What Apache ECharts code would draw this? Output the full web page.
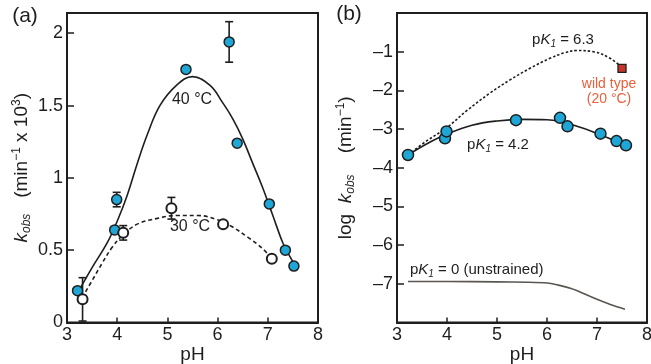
<!DOCTYPE html>
<html><head><meta charset="utf-8">
<script src="https://cdn.jsdelivr.net/npm/echarts@6/dist/echarts.min.js"></script>
<style>html,body{margin:0;padding:0;background:#fff}#c{width:651px;height:364px}</style>
</head><body><div id="c"></div>
<script>
// ---- Panel (a): k_obs (min^-1 x 10^3) vs pH ----
const pH40 = [3.21, 3.95, 3.99, 5.37, 6.23, 6.39, 7.03, 7.35, 7.52];
const k40  = [0.22, 0.64, 0.85, 1.75, 1.94, 1.24, 0.82, 0.50, 0.39];
const e40  = [0,    0,    0.05, 0,    0.14, 0,    0,    0,    0];
const pH30 = [3.31, 4.12, 5.08, 6.11, 7.08];
const k30  = [0.16, 0.62, 0.79, 0.68, 0.44];
const e30  = [0.15, 0.05, 0.075, 0,   0];
const fit40pH = [3.22, 3.5, 3.8, 4.0, 4.2, 4.4, 4.6, 4.85, 5.18, 5.5, 5.85, 6.1, 6.3, 6.5, 6.7, 6.9, 7.1, 7.3, 7.45, 7.55];
const fit40k  = [0.21, 0.38, 0.55, 0.70, 0.88, 1.10, 1.30, 1.50, 1.64, 1.70, 1.64, 1.52, 1.41, 1.27, 1.10, 0.93, 0.74, 0.55, 0.45, 0.39];
const fit30pH = [3.3, 3.5, 3.7, 3.9, 4.1, 4.4, 4.8, 5.2, 5.6, 6.0, 6.3, 6.6, 6.9, 7.08];
const fit30k  = [0.17, 0.29, 0.41, 0.52, 0.60, 0.68, 0.72, 0.74, 0.74, 0.71, 0.66, 0.59, 0.51, 0.44];
// ---- Panel (b): log k_obs vs pH ----
const pHb   = [3.22, 3.96, 3.99, 5.38, 6.26, 6.41, 7.07, 7.39, 7.58];
const logkb = [-3.67, -3.24, -3.06, -2.77, -2.71, -2.93, -3.12, -3.31, -3.42];
const wtPH = [7.50], wtLogk = [-1.43];
const fitB42pH = [3.22, 3.6, 4.0, 4.5, 5.0, 5.5, 6.0, 6.3, 6.6, 6.9, 7.2, 7.58];
const fitB42   = [-3.67, -3.38, -3.13, -2.90, -2.79, -2.75, -2.76, -2.82, -2.93, -3.06, -3.22, -3.42];
const fitB63pH = [3.22, 3.6, 4.0, 4.4, 4.86, 5.26, 5.66, 6.06, 6.35, 6.6, 6.93, 7.26, 7.50];
const fitB63   = [-3.67, -3.30, -2.96, -2.52, -2.07, -1.73, -1.43, -1.17, -1.03, -0.97, -1.00, -1.17, -1.41];
const fitB0pH  = [3.22, 4.0, 5.0, 5.6, 6.0, 6.25, 6.5, 6.8, 7.1, 7.3, 7.56];
const fitB0    = [-6.94, -6.94, -6.95, -6.96, -6.98, -7.04, -7.13, -7.29, -7.45, -7.55, -7.66];
const xTicks = [3, 4, 5, 6, 7, 8];
const yTicksA = [0, 0.5, 1, 1.5, 2];
const yTicksB = [-7, -6, -5, -4, -3, -2, -1];

const zip = (a, b, c) => a.map((v, i) => c ? [v, b[i], c[i]] : [v, b[i]]);
const FONT = '"Liberation Sans", Arial, Helvetica, sans-serif';
const INK = '#1e1e1e';
const BLUE = '#1ea7d6';

function errBars(params, api) {
  const x = api.value(0), y = api.value(1), e = api.value(2);
  if (!e) return null;
  const t = api.coord([x, y + e]), b = api.coord([x, y - e]);
  const w = 4, st = {stroke: INK, lineWidth: 1.6};
  return {type: 'group', children: [
    {type: 'line', shape: {x1: t[0], y1: t[1], x2: b[0], y2: b[1]}, style: st},
    {type: 'line', shape: {x1: t[0] - w, y1: t[1], x2: t[0] + w, y2: t[1]}, style: st},
    {type: 'line', shape: {x1: b[0] - w, y1: b[1], x2: b[0] + w, y2: b[1]}, style: st}
  ]};
}

function xAxis(gi) {
  return {
    gridIndex: gi, type: 'value', min: 3, max: 8, interval: 1,
    axisLine: {onZero: false, lineStyle: {color: INK, width: 2}},
    axisTick: {inside: true, length: 5, lineStyle: {color: INK, width: 1.5},
      customValues: xTicks.slice(1, -1)},
    axisLabel: {fontSize: 18, color: INK, fontFamily: FONT, margin: 4, customValues: xTicks},
    splitLine: {show: false},
    name: 'pH', nameLocation: 'middle', nameGap: 23, nameMoveOverlap: false,
    nameTextStyle: {fontSize: 19, color: INK, fontFamily: FONT, verticalAlign: 'top'}
  };
}
const subRich = {
  n: {fontSize: 19, fontFamily: FONT, color: INK, lineHeight: 22},
  i: {fontSize: 19, fontFamily: FONT, color: INK, fontStyle: 'italic', lineHeight: 22},
  s: {fontSize: 12, fontFamily: FONT, color: INK, fontStyle: 'italic', lineHeight: 13, verticalAlign: 'bottom'},
  u: {fontSize: 12, fontFamily: FONT, color: INK, lineHeight: 13, verticalAlign: 'top'}
};

const option = {
  animation: false,
  backgroundColor: '#fff',
  grid: [
    {left: 67, right: 333, top: 13, bottom: 41.5, show: true, borderColor: INK, borderWidth: 2,
      containLabel: false, outerBoundsMode: 'none'},
    {left: 397, right: 4, top: 13, bottom: 41.5, show: true, borderColor: INK, borderWidth: 2,
      containLabel: false, outerBoundsMode: 'none'}
  ],
  xAxis: [xAxis(0), xAxis(1)],
  yAxis: [
    {gridIndex: 0, type: 'value', min: 0, max: 2.14, interval: 0.5,
      axisLine: {onZero: false, lineStyle: {color: INK, width: 2}},
      axisTick: {inside: true, length: 7, lineStyle: {color: INK, width: 1.5}, customValues: yTicksA.slice(1)},
      axisLabel: {fontSize: 18, color: INK, fontFamily: FONT, margin: 4, customValues: yTicksA},
      splitLine: {show: false},
      name: '{i|k}{s|obs}{n|   (min}{u|−1}{n| x 10}{u|3}{n|)}', nameLocation: 'middle', nameGap: 34,
      nameTextStyle: {rich: subRich}},
    {gridIndex: 1, type: 'value', min: -8, max: 0, interval: 1,
      axisLine: {onZero: false, lineStyle: {color: INK, width: 2}},
      axisTick: {inside: true, length: 7, lineStyle: {color: INK, width: 1.5}, customValues: yTicksB},
      axisLabel: {fontSize: 18, color: INK, fontFamily: FONT, margin: 4, customValues: yTicksB,
        formatter: v => '\u2013' + Math.abs(v)},
      splitLine: {show: false},
      name: '{n|log  }{i|k}{s|obs}{n|    (min}{u|−1}{n|)}', nameLocation: 'middle', nameGap: 40,
      nameTextStyle: {rich: subRich}}
  ],
  series: [
    {type: 'line', xAxisIndex: 0, yAxisIndex: 0, data: zip(fit40pH, fit40k), smooth: 0.4, symbol: 'none',
      lineStyle: {color: INK, width: 1.6}, z: 2},
    {type: 'line', xAxisIndex: 0, yAxisIndex: 0, data: zip(fit30pH, fit30k), smooth: 0.4, symbol: 'none',
      lineStyle: {color: INK, width: 1.6, type: [4, 3]}, z: 2},
    {type: 'custom', xAxisIndex: 0, yAxisIndex: 0, data: zip(pH40, k40, e40), renderItem: errBars, z: 3},
    {type: 'custom', xAxisIndex: 0, yAxisIndex: 0, data: zip(pH30, k30, e30), renderItem: errBars, z: 3},
    {type: 'scatter', xAxisIndex: 0, yAxisIndex: 0, data: zip(pH40, k40), symbolSize: 10,
      itemStyle: {color: BLUE, borderColor: INK, borderWidth: 1.5, opacity: 1}, z: 4},
    {type: 'scatter', xAxisIndex: 0, yAxisIndex: 0, data: zip(pH30, k30), symbolSize: 10,
      itemStyle: {color: '#fff', borderColor: INK, borderWidth: 2, opacity: 1}, z: 4},

    {type: 'line', xAxisIndex: 1, yAxisIndex: 1, data: zip(fitB63pH, fitB63), smooth: 0.4, symbol: 'none',
      lineStyle: {color: INK, width: 1.6, type: [2.5, 2]}, z: 2},
    {type: 'line', xAxisIndex: 1, yAxisIndex: 1, data: zip(fitB42pH, fitB42), smooth: 0.4, symbol: 'none',
      lineStyle: {color: INK, width: 1.6}, z: 2},
    {type: 'line', xAxisIndex: 1, yAxisIndex: 1, data: zip(fitB0pH, fitB0), smooth: 0.25, symbol: 'none',
      lineStyle: {color: '#5a5652', width: 1.6}, z: 2},
    {type: 'scatter', xAxisIndex: 1, yAxisIndex: 1, data: zip(pHb, logkb), symbolSize: 11,
      itemStyle: {color: BLUE, borderColor: INK, borderWidth: 1.5, opacity: 1}, z: 4},
    {type: 'scatter', xAxisIndex: 1, yAxisIndex: 1, data: zip(wtPH, wtLogk), symbol: 'rect', symbolSize: 8,
      itemStyle: {color: '#c8342a', borderColor: INK, borderWidth: 1.3, opacity: 1}, z: 4}
  ],
  graphic: [
    {type: 'text', x: 25, y: 16, style: {text: '(a)', font: '21px ' + FONT, fill: INK, align: 'center', verticalAlign: 'middle'}},
    {type: 'text', x: 349, y: 14, style: {text: '(b)', font: '21px ' + FONT, fill: INK, align: 'center', verticalAlign: 'middle'}},
    {type: 'text', x: 192, y: 100, style: {text: '40 °C', font: '16px ' + FONT, fill: INK, align: 'center', verticalAlign: 'middle'}},
    {type: 'text', x: 190, y: 227, style: {text: '30 °C', font: '16px ' + FONT, fill: INK, align: 'center', verticalAlign: 'middle'}},
    {type: 'text', x: 563, y: 40, style: {text: '{n|p}{i|K}{s|1}{n| = 6.3}', align: 'center', verticalAlign: 'middle',
      rich: {n: {fontSize: 15, fontFamily: FONT, fill: INK, lineHeight: 18}, i: {fontSize: 15, fontFamily: FONT, fill: INK, fontStyle: 'italic', lineHeight: 18}, s: {fontSize: 10, fontFamily: FONT, fill: INK, fontStyle: 'italic', lineHeight: 10, verticalAlign: 'bottom'}}}},
    {type: 'text', x: 498, y: 145, style: {text: '{n|p}{i|K}{s|1}{n| = 4.2}', align: 'center', verticalAlign: 'middle',
      rich: {n: {fontSize: 15, fontFamily: FONT, fill: INK, lineHeight: 18}, i: {fontSize: 15, fontFamily: FONT, fill: INK, fontStyle: 'italic', lineHeight: 18}, s: {fontSize: 10, fontFamily: FONT, fill: INK, fontStyle: 'italic', lineHeight: 10, verticalAlign: 'bottom'}}}},
    {type: 'text', x: 410, y: 270, style: {text: '{n|p}{i|K}{s|1}{n| = 0 (unstrained)}', align: 'left', verticalAlign: 'middle',
      rich: {n: {fontSize: 15, fontFamily: FONT, fill: INK, lineHeight: 18}, i: {fontSize: 15, fontFamily: FONT, fill: INK, fontStyle: 'italic', lineHeight: 18}, s: {fontSize: 10, fontFamily: FONT, fill: INK, fontStyle: 'italic', lineHeight: 10, verticalAlign: 'bottom'}}}},
    {type: 'text', x: 609, y: 84, style: {text: 'wild type', font: '14px ' + FONT, fill: '#e8603c', align: 'center', verticalAlign: 'middle'}},
    {type: 'text', x: 609, y: 99, style: {text: '(20 °C)', font: '14px ' + FONT, fill: '#e8603c', align: 'center', verticalAlign: 'middle'}}
  ]
};
echarts.init(document.getElementById('c')).setOption(option);
</script>
</body></html>
